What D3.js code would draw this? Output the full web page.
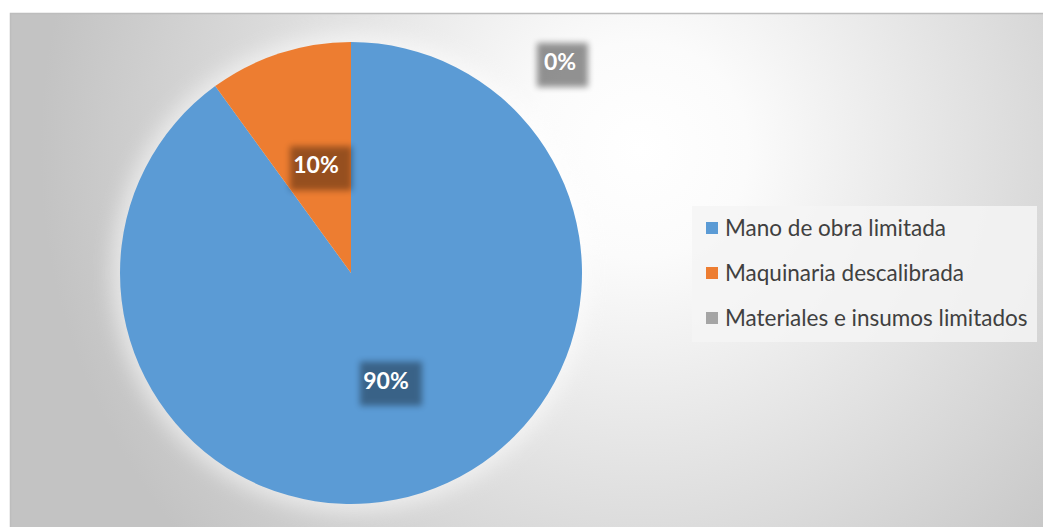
<!DOCTYPE html>
<html>
<head>
<meta charset="utf-8">
<script src="https://cdn.jsdelivr.net/npm/d3@7/dist/d3.min.js"></script>
<style>
  html, body { margin: 0; padding: 0; background: #ffffff; }
  svg { display: block; }
</style>
</head>
<body>
<svg id="chart" width="1043" height="527"></svg>
<script>
// Causas y su participación porcentual
const categories = ["Mano de obra limitada", "Maquinaria descalibrada", "Materiales e insumos limitados"];
const values = [90, 10, 0];
const labels = ["90%", "10%", "0%"];
const colors = ["#5B9BD5", "#ED7D31", "#A5A5A5"];

const W = 1043, H = 527;
const svg = d3.select("#chart");
const defs = svg.append("defs");

// Background gradient of the chart area
const bg = defs.append("radialGradient")
  .attr("id", "bgGrad")
  .attr("gradientUnits", "userSpaceOnUse")
  .attr("cx", 640).attr("cy", 150).attr("r", 600);
bg.append("stop").attr("offset", "0%").attr("stop-color", "#ffffff");
bg.append("stop").attr("offset", "18%").attr("stop-color", "#fbfbfb");
bg.append("stop").attr("offset", "100%").attr("stop-color", "#c3c3c3");

const blurGlow = defs.append("filter").attr("id", "glow")
  .attr("x", "-20%").attr("y", "-20%").attr("width", "140%").attr("height", "140%");
blurGlow.append("feGaussianBlur").attr("stdDeviation", 10);

const blurBox = defs.append("filter").attr("id", "boxBlur")
  .attr("x", "-40%").attr("y", "-40%").attr("width", "180%").attr("height", "180%");
blurBox.append("feGaussianBlur").attr("stdDeviation", 3);

// Chart area
svg.append("rect")
  .attr("x", 10).attr("y", 13).attr("width", W - 10).attr("height", H - 13)
  .attr("fill", "url(#bgGrad)");
svg.append("path")
  .attr("d", `M10.5,${H} V13.5 H${W}`)
  .attr("fill", "none").attr("stroke", "#bdbdbd").attr("stroke-width", 1.5);

const cx = 351, cy = 273, r = 231;

// Soft light halo behind the pie
svg.append("circle")
  .attr("cx", cx).attr("cy", cy).attr("r", r + 8)
  .attr("fill", "#ffffff").attr("opacity", 0.55)
  .attr("filter", "url(#glow)");

const pie = d3.pie().sort(null).value(d => d.value);
const data = categories.map((c, i) => ({ name: c, value: values[i], label: labels[i], color: colors[i] }));
const arcs = pie(data);
const arc = d3.arc().innerRadius(0).outerRadius(r);
// centroid of this arc sits on the bisector at about half the radius
const labelArc = d3.arc().innerRadius(r * 0.49).outerRadius(r * 0.49);

const g = svg.append("g").attr("transform", `translate(${cx},${cy})`);
g.selectAll("path.slice")
  .data(arcs.filter(a => a.data.value > 0))
  .join("path")
  .attr("class", "slice")
  .attr("d", arc)
  .attr("fill", d => d.data.color);

// Data labels: inside the slice on its bisector; an empty slice is labelled outside
const labelPos = a => {
  if (a.data.value === 0) return [209, -211];
  return labelArc.centroid(a);
};

const lbl = g.selectAll("g.lbl").data(arcs).join("g")
  .attr("class", "lbl")
  .attr("transform", d => {
    const p = labelPos(d);
    return `translate(${p[0]},${p[1]})`;
  });

lbl.append("rect")
  .attr("x", d => d.data.label.length > 2 ? -26 : -23)
  .attr("y", -19)
  .attr("width", d => d.data.label.length > 2 ? 62 : 51)
  .attr("height", 44)
  .attr("fill", "#000")
  .attr("opacity", d => d.data.value === 0 ? 0.42 : 0.36)
  .attr("filter", "url(#boxBlur)");

lbl.append("text")
  .attr("text-anchor", "middle")
  .attr("dy", "0.35em")
  .attr("fill", "#ffffff")
  .attr("font-family", "Lato, 'Open Sans', sans-serif")
  .attr("font-weight", "bold")
  .attr("font-size", 23)
  .text(d => d.data.label);

// Legend
const legend = svg.append("g").attr("transform", "translate(692,206)");
legend.append("rect")
  .attr("width", 345).attr("height", 136)
  .attr("fill", "#f4f4f4").attr("opacity", 0.85);

const rowY = d3.scalePoint().domain(categories).range([22, 112]);
const item = legend.selectAll("g.item").data(data).join("g")
  .attr("class", "item")
  .attr("transform", d => `translate(0,${rowY(d.name)})`);
item.append("rect")
  .attr("x", 14).attr("y", -6).attr("width", 12).attr("height", 12)
  .attr("fill", d => d.color);
item.append("text")
  .attr("x", 33).attr("dy", "0.35em")
  .attr("fill", "#404040")
  .attr("font-family", "Lato, 'Open Sans', sans-serif")
  .attr("font-size", 22.5)
  .text(d => d.name);
</script>
</body>
</html>
